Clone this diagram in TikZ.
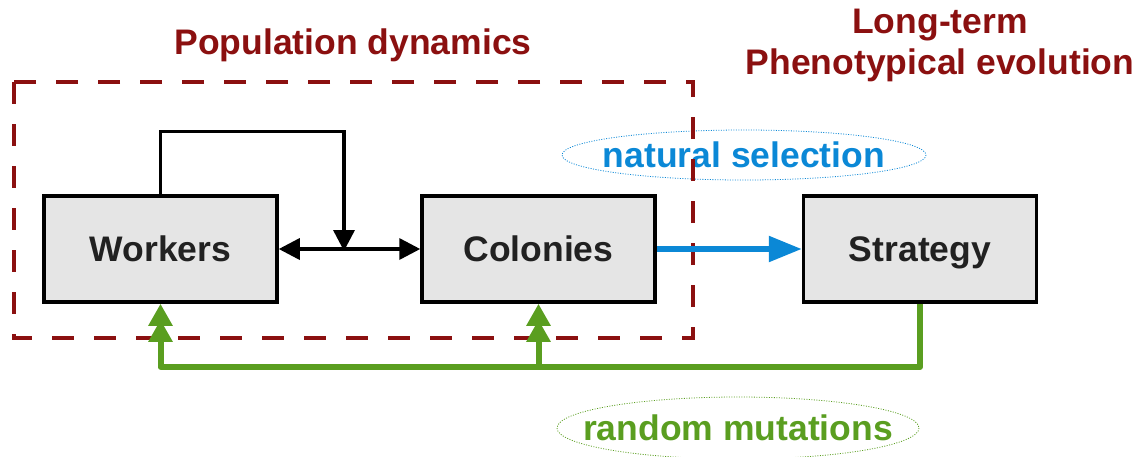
\documentclass[tikz,border=0pt]{standalone}
\usepackage{fontspec}
\setmainfont{Liberation Sans}
\usepackage{tikz}
\usetikzlibrary{arrows.meta}

\definecolor{popred}{RGB}{139,16,16}
\definecolor{selblue}{RGB}{11,136,214}
\definecolor{mutgreen}{RGB}{90,158,32}
\definecolor{boxgray}{RGB}{229,229,229}

\begin{document}
\begin{tikzpicture}[x=1pt, y=-1pt,
    every node/.style={font=\fontsize{35.5}{41}\selectfont\bfseries},
    popbox/.style={draw, line width=3.5pt, fill=boxgray, text=black!87,
        minimum width=233pt, minimum height=106pt, text height=25pt, text depth=0pt},
    tag/.style={line width=0.8pt, dash pattern=on 1pt off 1.5pt},
    flow/.style={line width=3.5pt, -{Triangle[length=21pt,width=21pt]}},
    mutation/.style={mutgreen, line width=6pt,
        -{Triangle[length=22pt,width=23pt,sep=-6pt]Triangle[length=22pt,width=23pt]}}]
  \useasboundingbox (0,0) rectangle (1142,456);

  % the three blocks
  \node[popbox] (workers)  at (160.5, 249) {Workers};
  \node[popbox] (colonies) at (538.5, 249) {Colonies};
  \node[popbox] (strategy) at (920, 249) {Strategy};

  % titles and labels
  \node[text=popred] (popdyn) at (353, 45) {Population dynamics};
  \node[text=popred, align=center] (longterm) at (940, 45) {Long-term\\Phenotypical evolution};
  \node[text=selblue, text height=25pt, text depth=0pt] (natsel) at (744, 155) {natural selection};
  \node[text=mutgreen, text height=25pt, text depth=0pt] (randmut) at (738, 428) {random mutations};
  \draw[tag, selblue] (natsel.center) ellipse [x radius=182, y radius=25];
  \draw[tag, mutgreen] (randmut.center) ellipse [x radius=181, y radius=31];

  % population dynamics frame
  \draw[popred, line width=4pt, dash pattern=on 22pt off 20pt] (14, 82) rectangle (693, 338);

  % worker -- colony interaction
  \coordinate (junc) at (344, 251);
  \draw[line width=3.5pt, {Triangle[length=21pt,width=21pt]}-{Triangle[length=21pt,width=21pt]}]
      (workers.east) -- (colonies.west);
  \draw[flow] (workers.north) -- ++(0,-63) -| (junc);

  % selection
  \draw[selblue, line width=5.5pt, -{Triangle[length=33pt,width=25pt]}] (colonies.east) -- (strategy.west);

  % mutations
  \coordinate (mutbus) at (0, 367);
  \draw[mutation, line join=round] (strategy.south) -- (strategy.south |- mutbus) -| (workers.south);
  \draw[mutation] (colonies.south |- mutbus) -- (colonies.south);
\end{tikzpicture}
\end{document}
